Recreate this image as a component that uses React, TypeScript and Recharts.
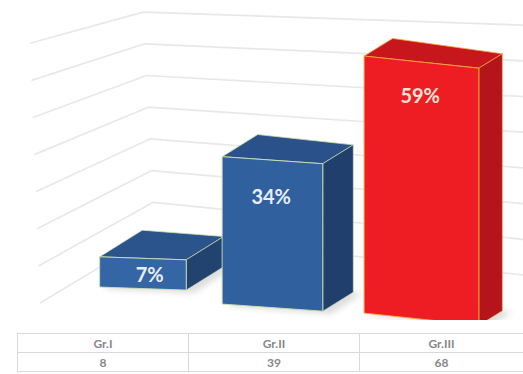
import { BarChart, Bar, XAxis, YAxis, CartesianGrid } from 'recharts';

const categories = ['Gr.I', 'Gr.II', 'Gr.III'];
const counts = [8, 39, 68];
const percentLabels = ['7%', '34%', '59%'];
const gridTicks = [0, 10, 20, 30, 40, 50, 60, 70];

const data = categories.map((name, i) => ({ name, count: counts[i], pct: percentLabels[i] }));

const W = 523;
const PLOT_H = 320;
const Y_MAX = 70;
const STEP = W / categories.length;
const K = 3.78; // screen px per unit on the front plane

// view projection: t = position in band units (0 = centre of first band)
const X = (t: number) => 141.5 + 119.75 * t + 9.75 * t * t;
const Yc = (t: number) => 288.5 + 22.75 * t - 3.75 * t * t;
const Dx = (t: number) => 40 - 7 * t;
const Dy = (t: number) => -25 + 4.5 * t;

function proj(t: number, tc: number, v: number, d: number): [number, number] {
  const slope = 0.035 + 0.035 * tc;
  const base = Yc(tc) + (X(t) - X(tc)) * slope;
  return [X(t) + d * Dx(t), base - v * K + d * Dy(t)];
}

const pts = (list: [number, number][]) => list.map((p) => p.join(',')).join(' ');

const palette = [
  { front: '#3465a4', top: '#2b548c', side: '#22426f', edge: '#cfe0b0', text: '#e8eef6' },
  { front: '#30609e', top: '#2a5189', side: '#213f6c', edge: '#cfe0b0', text: '#e8eef6' },
  { front: '#ee1d24', top: '#c7171d', side: '#b5141a', edge: '#f4a63c', text: '#f8e4d6' },
];

function Box3D(props: any) {
  const { x, y, width, height, payload } = props;
  if (x == null || y == null) return null;
  const tl = (x - STEP / 2) / STEP;
  const tr = (x + width - STEP / 2) / STEP;
  const tc = (tl + tr) / 2;
  const idx = Math.round(tc);
  const v = (height * Y_MAX) / PLOT_H;
  const c = palette[idx] || palette[0];

  const fbl = proj(tl, tc, 0, 0);
  const fbr = proj(tr, tc, 0, 0);
  const ftl = proj(tl, tc, v, 0);
  const ftr = proj(tr, tc, v, 0);
  const bbr = proj(tr, tc, 0, 1);
  const btl = proj(tl, tc, v, 1);
  const btr = proj(tr, tc, v, 1);
  const bbl = proj(tl, tc, 0, 1);

  // short boxes put the label a little right, as in the source
  const short = fbl[1] - ftl[1] < 60;
  const labelX = X(tc) + (short ? 8 : 0);
  const labelY = Math.min(ftl[1] + 47, fbl[1] - 5);
  const fid = `shadow-${idx}`;

  return (
    <g>
      <defs>
        <filter id={fid} x="-30%" y="-30%" width="160%" height="160%">
          <feGaussianBlur stdDeviation="3" />
        </filter>
      </defs>
      <polygon
        points={pts([
          [fbl[0] + 4, fbl[1] + 2],
          [fbr[0] + 8, fbr[1] + 3],
          [bbr[0] + 10, bbr[1] + 1],
          bbl,
        ])}
        fill="#000"
        opacity={0.13}
        filter={`url(#${fid})`}
      />
      <polygon points={pts([ftl, ftr, btr, btl])} fill={c.top} stroke={c.edge} strokeWidth={0.8} strokeLinejoin="round" />
      <polygon points={pts([ftr, fbr, bbr, btr])} fill={c.side} stroke={c.edge} strokeWidth={0.6} strokeLinejoin="round" />
      <polygon points={pts([ftl, ftr, fbr, fbl])} fill={c.front} stroke={c.edge} strokeWidth={0.9} strokeLinejoin="round" />
      <text
        x={labelX}
        y={labelY}
        textAnchor="middle"
        fill={c.text}
        fontFamily="Lato, 'Open Sans', sans-serif"
        fontWeight={700}
        fontSize={20}
      >
        {payload.pct}
      </text>
    </g>
  );
}

function PerspectiveGridLine(props: any) {
  const g = ((PLOT_H - props.y1) * Y_MAX) / PLOT_H;
  const left: [number, number] = [40 - g * 0.143, 303 - 3.71 * g];
  const corner: [number, number] = [155 - g * 0.17, 234 - 3.17 * g];
  const right: [number, number] = [W, 275 - 3.57 * g];
  return (
    <polyline
      key={props.key}
      points={pts([left, corner, right])}
      fill="none"
      stroke="#e8e8e8"
      strokeWidth={1.7}
      strokeLinejoin="round"
    />
  );
}

const cellBase: React.CSSProperties = {
  height: 19,
  lineHeight: '19px',
  textAlign: 'center',
  borderLeft: '1px solid #d9d9d9',
  borderTop: '1px solid #d9d9d9',
  color: '#888',
  fontFamily: "Lato, 'Open Sans', sans-serif",
  fontWeight: 700,
  fontSize: 12,
  boxSizing: 'border-box',
};

export default function App() {
  return (
    <div style={{ position: 'absolute', left: 0, top: 0, width: W, height: 374, background: '#fff', overflow: 'hidden' }}>
      <BarChart
        width={W}
        height={PLOT_H}
        data={data}
        margin={{ top: 0, right: 0, bottom: 0, left: 0 }}
        barCategoryGap="14%"
      >
        <CartesianGrid vertical={false} horizontal={PerspectiveGridLine} />
        <XAxis dataKey="name" hide />
        <YAxis domain={[0, Y_MAX]} ticks={gridTicks} hide />
        <Bar dataKey="count" shape={Box3D} isAnimationActive={false} />
      </BarChart>
      <div
        style={{
          position: 'absolute',
          left: 17,
          top: 333,
          width: W - 17,
          display: 'grid',
          gridTemplateColumns: '171px 171px 164px',
          borderBottom: '1px solid #d9d9d9',
        }}
      >
        {categories.map((c) => (
          <div key={c} style={cellBase}>
            {c}
          </div>
        ))}
        {counts.map((n, i) => (
          <div key={i} style={cellBase}>
            {n}
          </div>
        ))}
      </div>
    </div>
  );
}
